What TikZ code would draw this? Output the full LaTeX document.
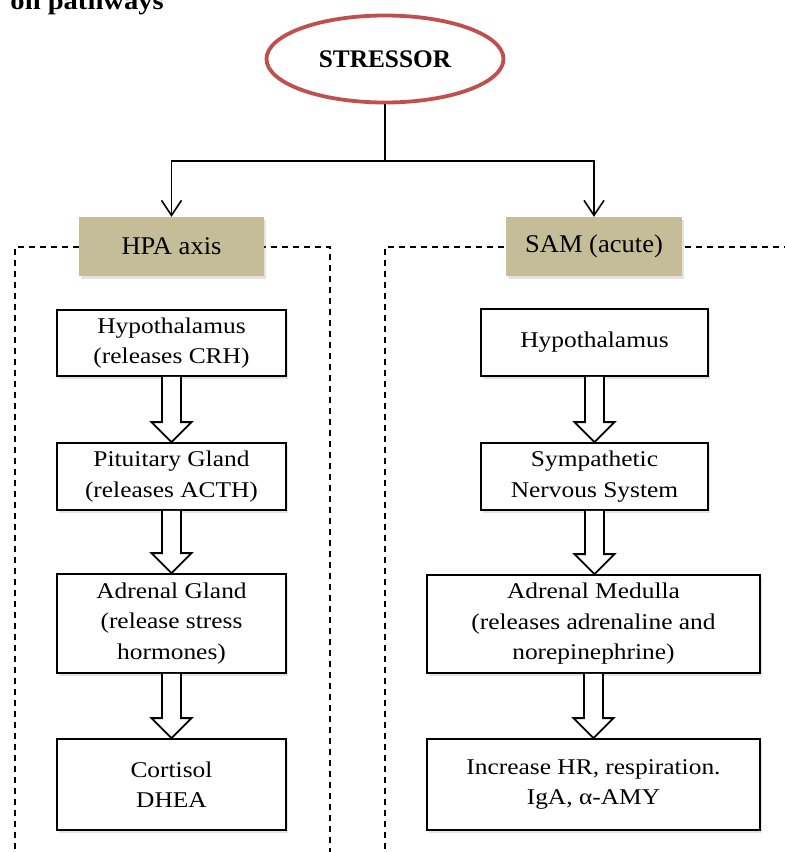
\documentclass[tikz,border=0pt]{standalone}
\usepackage{fontspec}
\setmainfont{Liberation Serif}
\newfontfamily\bodyf{Liberation Serif}[FakeStretch=1.13]
\newfontfamily\headf{Liberation Serif}[FakeStretch=1.04]
\usetikzlibrary{arrows.meta,shadows,calc,shapes.geometric}
\definecolor{stressred}{RGB}{192,80,77}
\definecolor{headtan}{RGB}{196,189,151}
\newcommand\blkarrow[2]{%
  \coordinate (tipof#2) at (#2.north -| #1.south);
  \draw[blockarrow] ($(#1.south)+(-9.5,0)$) -- ($(tipof#2)+(-9.5,-20)$) -- ($(tipof#2)+(-20,-20)$) -- (tipof#2) -- ($(tipof#2)+(20,-20)$) -- ($(tipof#2)+(9.5,-20)$) -- ($(#1.south)+(9.5,0)$);}
\begin{document}
\begin{tikzpicture}[x=1pt,y=-1pt,
  stepbox/.style={draw=black, line width=1.8pt, fill=white, inner sep=0pt, align=center,
    font=\bodyf\fontsize{22.5}{30.5}\selectfont,
    drop shadow={shadow xshift=1.5pt,shadow yshift=-2.5pt,opacity=0.22}},
  headbox/.style={fill=headtan, inner sep=0pt, minimum height=59pt,
    font=\headf\fontsize{25.5}{30}\selectfont,
    drop shadow={shadow xshift=1.5pt,shadow yshift=-2.5pt,opacity=0.22}},
  frame/.style={dash pattern=on 6pt off 5pt, line width=1.4pt},
  conn/.style={line width=1.6pt, -{Straight Barb[length=15pt,width=20pt,line width=1.6pt]}},
  blockarrow/.style={draw=black, line width=1.8pt, fill=white, line join=miter}
]
\useasboundingbox (0,0) rectangle (785,852);
\clip (0,0) rectangle (785,852);

% title fragment
\node[font=\bodyf\bfseries\fontsize{25.3}{30}\selectfont, anchor=base east, inner sep=0pt] (title) at (164,9.5) {on pathways};

% stressor
\node[ellipse, draw=stressred, line width=3.8pt, minimum width=237pt, minimum height=87pt,
  font=\bfseries\fontsize{25.3}{30}\selectfont] (stress) at (385,59) {STRESSOR};

% dashed frames
\draw[frame] (15,860) -- (15,247) -- (330,247) -- (330,860);
\draw[frame] (385,860) -- (385,247) -- (790,247);

% headers
\node[headbox, minimum width=185pt] (hpa) at (171.5,246.5) {HPA axis};
\node[headbox, minimum width=176pt] (sam) at (594,246.5) {SAM (acute)};

% connectors from stressor
\coordinate (junc) at (385,161);
\draw[line width=1.6pt] (stress.south) -- (junc);
\draw[conn] (junc) -| (hpa.north);
\draw[conn] (junc) -| (sam.north);

% left column
\node[stepbox, minimum width=229pt, minimum height=66pt] (hypa) at (171.5,343) {Hypothalamus\\(releases CRH)};
\node[stepbox, minimum width=229pt, minimum height=67pt] (pit) at (171.5,476.5) {Pituitary Gland\\(releases ACTH)};
\node[stepbox, minimum width=229pt, minimum height=99pt] (adr) at (171.5,623.5) {Adrenal Gland\\(release stress\\hormones)};
\node[stepbox, minimum width=229pt, minimum height=91pt] (cor) at (171.5,784.5) {Cortisol\\DHEA};

% right column
\node[stepbox, minimum width=227pt, minimum height=67pt] (hypb) at (594.5,342.5) {Hypothalamus};
\node[stepbox, minimum width=227pt, minimum height=67pt] (sns) at (594.5,476.5) {Sympathetic\\Nervous System};
\node[stepbox, minimum width=333pt, minimum height=98pt] (med) at (593.5,624) {Adrenal Medulla\\(releases adrenaline and\\norepinephrine)};
\node[stepbox, minimum width=333pt, minimum height=91pt] (inc) at (593.5,784.5) {Increase HR, respiration.\\IgA, α-AMY};

% block arrows
\blkarrow{hypa}{pit}
\blkarrow{pit}{adr}
\blkarrow{adr}{cor}
\blkarrow{hypb}{sns}
\blkarrow{sns}{med}
\blkarrow{med}{inc}
\end{tikzpicture}
\end{document}
